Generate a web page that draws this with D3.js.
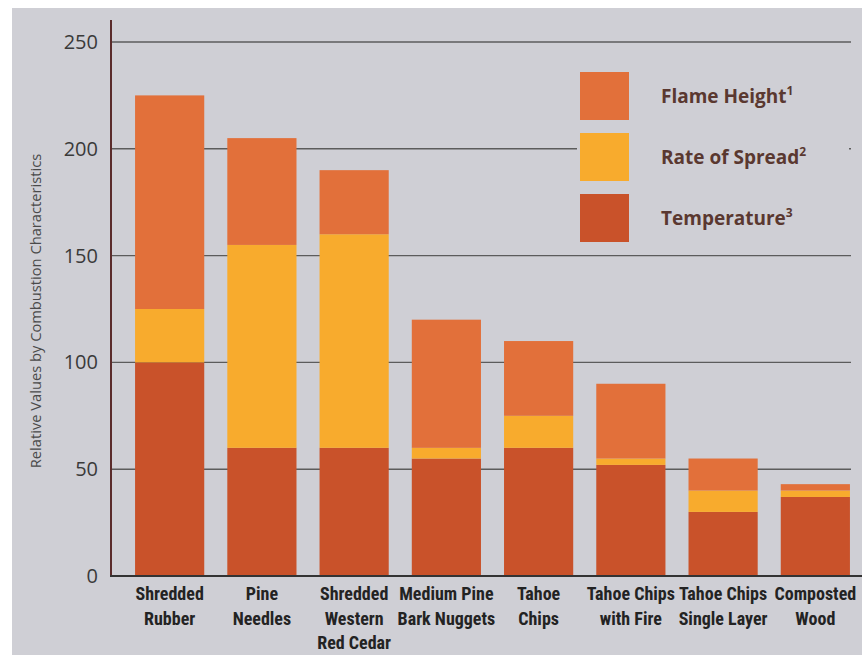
<!DOCTYPE html>
<html>
<head>
<meta charset="utf-8">
<script src="https://cdn.jsdelivr.net/npm/d3@7"></script>
<style>
  html, body { margin: 0; padding: 0; background: #ffffff; }
  svg { display: block; }
</style>
</head>
<body>
<svg id="chart" width="862" height="655"></svg>
<script>
// Mulch materials compared by combustion characteristics (stacked)
const categories = [
  ["Shredded", "Rubber"],
  ["Pine", "Needles"],
  ["Shredded", "Western", "Red Cedar"],
  ["Medium Pine", "Bark Nuggets"],
  ["Tahoe", "Chips"],
  ["Tahoe Chips", "with Fire"],
  ["Tahoe Chips", "Single Layer"],
  ["Composted", "Wood"]
];
const temperature  = [100, 60, 60, 55, 60, 52, 30, 37];
const rateOfSpread = [25, 95, 100, 5, 15, 3, 10, 3];
const flameHeight  = [100, 50, 30, 60, 35, 35, 15, 3];

const seriesNames = ["Temperature", "Rate of Spread", "Flame Height"];
const seriesSup   = ["3", "2", "1"];
const seriesColors = ["#c9522a", "#f8ab2d", "#e2703a"];
const yTicks = [0, 50, 100, 150, 200, 250];

const svg = d3.select("#chart");
const W = 862, H = 655;

// panel background
svg.append("rect").attr("x", 12).attr("y", 8).attr("width", W - 12).attr("height", H - 8)
  .attr("fill", "#cfcfd5");

const x0 = 111, yBase = 576;
const y = d3.scaleLinear().domain([0, 250]).range([yBase, 42]);

const keys = categories.map(c => c.join(" "));
const x = d3.scaleBand().domain(keys).range([112, 873]).paddingInner(0.25).paddingOuter(0.25);

// gridlines
svg.append("g").selectAll("line").data(yTicks.filter(t => t > 0)).join("line")
  .attr("x1", x0).attr("x2", 851)
  .attr("y1", d => y(d)).attr("y2", d => y(d))
  .attr("stroke", "#5c5c5c").attr("stroke-width", 1.4);

// y tick labels
const yAxis = d3.axisLeft(y).tickValues(yTicks).tickSize(0).tickPadding(13);
const yg = svg.append("g").attr("transform", `translate(${x0},0)`).call(yAxis);
yg.select(".domain").remove();
yg.selectAll("text")
  .attr("font-family", "'Open Sans', 'DejaVu Sans', sans-serif")
  .attr("font-size", 20).attr("fill", "#3a3a3a");

// axis title
svg.append("text")
  .attr("transform", `translate(41,${311}) rotate(-90)`)
  .attr("text-anchor", "middle")
  .attr("font-family", "'Open Sans', 'DejaVu Sans', sans-serif")
  .attr("font-size", 14.7).attr("fill", "#4a4a4a")
  .text("Relative Values by Combustion Characteristics");

// stacked bars
const rows = keys.map((k, i) => ({
  key: k,
  "Temperature": temperature[i],
  "Rate of Spread": rateOfSpread[i],
  "Flame Height": flameHeight[i]
}));
const stacked = d3.stack().keys(seriesNames)(rows);

svg.append("g").selectAll("g").data(stacked).join("g")
  .attr("fill", (d, i) => seriesColors[i])
  .selectAll("rect").data(d => d).join("rect")
  .attr("x", d => x(d.data.key))
  .attr("width", x.bandwidth())
  .attr("y", d => y(d[1]))
  .attr("height", d => y(d[0]) - y(d[1]));

// y axis line and baseline
svg.append("line").attr("x1", x0).attr("x2", x0).attr("y1", 20).attr("y2", yBase)
  .attr("stroke", "#5a2b2b").attr("stroke-width", 2);
svg.append("line").attr("x1", x0 - 1).attr("x2", W).attr("y1", yBase).attr("y2", yBase)
  .attr("stroke", "#333333").attr("stroke-width", 2);

// category labels
const xl = svg.append("g");
categories.forEach((lines, i) => {
  const cx = x(keys[i]) + x.bandwidth() / 2;
  const t = xl.append("text")
    .attr("text-anchor", "middle")
    .attr("font-family", "'Liberation Sans Narrow', 'Roboto Condensed', 'Liberation Sans', sans-serif")
    .attr("font-weight", "bold").attr("font-size", 18).attr("fill", "#232323");
  lines.forEach((ln, j) => {
    t.append("tspan").attr("x", cx).attr("y", 600 + j * 24.5).text(ln);
  });
});

// legend
const legendOrder = [2, 1, 0];
const lg = svg.append("g");
lg.append("rect").attr("x", 577).attr("y", 64).attr("width", 272).attr("height", 186)
  .attr("fill", "#cfcfd5");
legendOrder.forEach((si, r) => {
  const top = 72 + r * 61;
  lg.append("rect").attr("x", 580).attr("y", top).attr("width", 49).attr("height", 48)
    .attr("fill", seriesColors[si]);
  const t = lg.append("text").attr("x", 661).attr("y", top + 31)
    .attr("font-family", "'Open Sans', 'DejaVu Sans', sans-serif")
    .attr("font-weight", "bold").attr("font-size", 19).attr("fill", "#5a3830")
    .text(seriesNames[si]);
  t.append("tspan").attr("dy", -8).attr("font-size", 12).text(seriesSup[si]);
});
</script>
</body>
</html>
